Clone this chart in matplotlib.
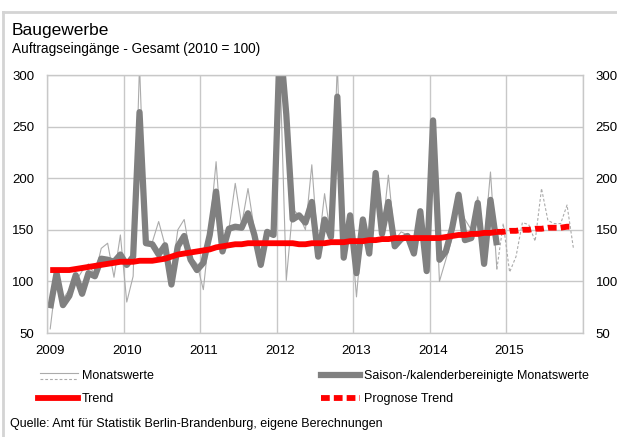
import numpy as np
import matplotlib
matplotlib.use("Agg")
import matplotlib.pyplot as plt
from matplotlib.lines import Line2D

plt.rcParams['font.family'] = ['Liberation Sans', 'DejaVu Sans']

# Jahre (Achsenbeschriftung)
years = ["2009", "2010", "2011", "2012", "2013", "2014", "2015"]

# Monatswerte Jan 2009 - Nov 2014
monatswerte = [54, 105, 83, 92, 100, 110, 117, 106, 132, 137, 104, 145,
               80, 105, 310, 137, 138, 158, 135, 104, 150, 160, 124, 117,
               92, 150, 216, 130, 150, 195, 155, 190, 150, 118, 145, 150,
               310, 101, 170, 164, 150, 213, 130, 185, 142, 310, 122, 162,
               85, 158, 125, 200, 145, 203, 140, 148, 145, 130, 160, 108,
               252, 100, 121, 142, 176, 160, 150, 182, 135, 206, 112]

# Prognose Monatswerte Nov 2014 - Nov 2015
prognose_monat = [112, 156, 109, 124, 157, 155, 139, 190, 159, 156, 156, 174, 132]

# Saison-/kalenderbereinigte Monatswerte Jan 2009 - Nov 2014
saisonbereinigt = [74, 108, 77, 86, 106, 88, 108, 105, 122, 121, 119, 126,
                   116, 124, 264, 137, 136, 126, 135, 97, 134, 144, 121, 111,
                   118, 145, 187, 129, 151, 153, 152, 166, 145, 116, 148, 145,
                   335, 262, 160, 164, 157, 177, 124, 160, 143, 279, 123, 164,
                   108, 160, 127, 205, 146, 177, 134, 141, 144, 127, 168, 110,
                   256, 121, 129, 152, 184, 140, 142, 176, 117, 179, 135]

# Trend Jan 2009 - Nov 2014
trend = [111, 111, 111, 111, 112, 113, 114, 115, 116, 117, 118, 119,
         119, 119, 120, 120, 120, 121, 122, 124, 126, 127, 128, 129,
         130, 131, 133, 134, 135, 136, 136, 137, 137, 137, 137, 137,
         137, 137, 137, 136, 136, 137, 137, 137, 138, 138, 138, 139,
         139, 139, 140, 140, 141, 141, 142, 142, 142, 142, 142, 142,
         142, 142, 143, 144, 145, 145, 146, 146, 147, 147, 148]

# Prognose Trend Nov 2014 - Nov 2015
prognose_trend = [148, 148, 149, 149, 150, 150, 151, 151, 152, 152, 152, 153, 153]

W, H = 617, 437


def fx(x):
    return x / W


def fy(y):
    return 1 - y / H


fig = plt.figure(figsize=(W / 100, H / 100), dpi=100)
ax = fig.add_axes([fx(47), fy(333), fx(583) - fx(47), fy(75) - fy(333)])

# Monate auf der x-Achse (Punkte in der Monatsmitte)
x_ist = np.arange(len(monatswerte)) + 0.5
x_prog = np.arange(len(prognose_monat)) + len(monatswerte) - 0.5

ax.plot(x_ist, monatswerte, color='#ababab', lw=0.8)
ax.plot(x_prog, prognose_monat, color='#ababab', lw=0.8, dashes=(2.5, 1.8))
ax.plot(x_ist, saisonbereinigt, color='#808080', lw=4.5,
        solid_joinstyle='round', solid_capstyle='butt')
ax.plot(x_ist, trend, color='#ff0000', lw=4.2, solid_capstyle='butt')
ax.plot(x_prog, prognose_trend, color='#ff0000', lw=4.2, dashes=(1.5, 0.7))

ax.set_xlim(0, 84)
ax.set_ylim(50, 300)
ax.set_yticks(np.arange(50, 301, 50))
ax.set_xticks(np.arange(0, 85, 12))
ax.set_xticklabels([])
ax.set_xticks(np.arange(len(years)) * 12 + 0.5, minor=True)
ax.set_xticklabels(years, minor=True)
ax.grid(True, which='major', color='#c8c8c8', lw=1)
ax.set_axisbelow(True)
for s in ax.spines.values():
    s.set_color('#c8c8c8')
    s.set_linewidth(1)
ax.tick_params(axis='both', which='both', length=0, labelsize=9.5, colors='black')
ax.tick_params(axis='x', which='minor', pad=9)
ax.tick_params(axis='y', labelright=True, pad=9)

# Titel
fig.text(fx(12), fy(35), "Baugewerbe", fontsize=12.5, va='baseline')
fig.text(fx(12), fy(53), "Auftragseingänge - Gesamt (2010 = 100)", fontsize=9.8, va='baseline')


# Legende (manuell)
def legend_line(x0, x1, y, **kw):
    fig.add_artist(Line2D([fx(x0), fx(x1)], [fy(y), fy(y)], transform=fig.transFigure, **kw))


legend_line(40, 78, 373, color='#ababab', lw=0.8)
legend_line(40, 78, 379, color='#ababab', lw=0.8, dashes=(2.5, 1.8))
fig.text(fx(82), fy(376), "Monatswerte", fontsize=9, va='center')
legend_line(321, 360, 375, color='#808080', lw=4.5)
fig.text(fx(364), fy(376), "Saison-/kalenderbereinigte Monatswerte", fontsize=9, va='center')
legend_line(38, 78, 398, color='#ff0000', lw=4.2)
fig.text(fx(82), fy(399), "Trend", fontsize=9, va='center')
legend_line(321, 360, 398, color='#ff0000', lw=4.2, dashes=(1.5, 0.7))
fig.text(fx(364), fy(399), "Prognose Trend", fontsize=9, va='center')

# Quelle
fig.text(fx(10), fy(424), "Quelle: Amt für Statistik Berlin-Brandenburg, eigene Berechnungen",
         fontsize=9, va='center')

# Rahmen links und oben
legend_line(3, 3, 12, color='#d4d4d4', lw=2)
fig.add_artist(Line2D([fx(3), fx(3)], [fy(12), 0], transform=fig.transFigure,
                      color='#d4d4d4', lw=2))
fig.add_artist(Line2D([fx(3), 1], [fy(12), fy(12)], transform=fig.transFigure,
                      color='#d4d4d4', lw=2))

fig.savefig("out.png", dpi=100)
